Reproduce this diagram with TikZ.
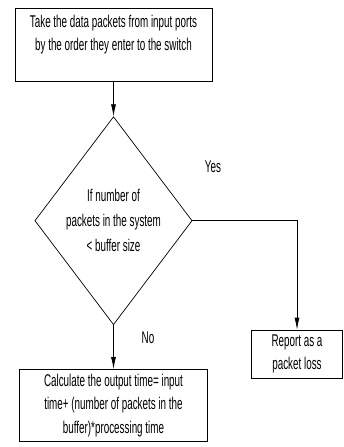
\documentclass[tikz,border=0pt]{standalone}
\usepackage{fontspec}
\setmainfont[FakeStretch=0.58]{Liberation Sans}
\usetikzlibrary{shapes.geometric,arrows.meta,positioning}

\tikzset{
	box/.style={draw,line width=0.7pt,align=center,inner sep=0pt,font=\fontsize{17}{23.5}\selectfont},
	decision/.style={diamond,draw,line width=0.7pt,align=center,inner sep=0pt,font=\fontsize{17}{25}\selectfont},
	flow/.style={line width=0.7pt,-{Latex[length=12pt,width=5pt]}},
	lbl/.style={font=\fontsize{17}{20}\selectfont,inner sep=0pt}
}

\begin{document}
\begin{tikzpicture}
	\useasboundingbox (0,0) rectangle (343pt,-447pt);
	\node[box,minimum width=197pt,minimum height=73pt](take) at (113.5pt,-44.5pt){Take the data packets from input ports\\by the order they enter to the switch\\\mbox{}};
	\node[decision,minimum width=156pt,minimum height=208pt](check)[below = 35pt of take]{If number of\\packets in the system\\< buffer size};
	\node[box,minimum width=188pt,minimum height=72pt](calc)[below = 44pt of check]{Calculate the output time= input\\time+ (number of packets in the\\buffer)*processing time};
	\node[box,minimum width=91pt,minimum height=48pt](loss) at (297pt,-354pt){Report as a\\packet loss};
	\node[lbl](yes) at (213pt,-167pt){Yes};
	\node[lbl](no) at (148pt,-338pt){No};
	\draw[flow](take) -- (check);
	\draw[flow](check) -- (calc);
	\draw[flow](check.east) -| (loss.north);
\end{tikzpicture}
\end{document}
